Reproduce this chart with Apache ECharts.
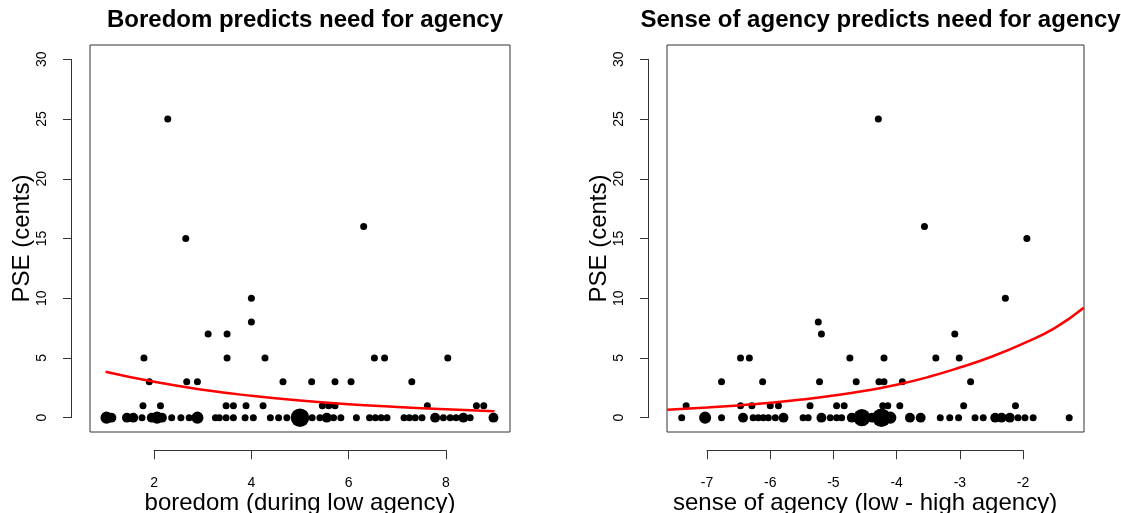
<!DOCTYPE html>
<html><head><meta charset="utf-8">
<script src="https://cdn.jsdelivr.net/npm/echarts@6/dist/echarts.min.js"></script>
<style>html,body{margin:0;padding:0;background:#fff}#c{width:1121px;height:513px}</style>
</head><body><div id="c"></div>
<script>
// ---------- data ----------
const titles = ['Boredom predicts need for agency', 'Sense of agency predicts need for agency'];
const xNames = ['boredom (during low agency)', 'sense of agency (low - high agency)'];
const yName = 'PSE (cents)';
const pseTicks = [0, 5, 10, 15, 20, 25, 30];
const boredomTicks = [2, 4, 6, 8];
const agencyTicks = [-7, -6, -5, -4, -3, -2];

// left panel points: boredom score, PSE, number of overlapping observations
const boredomX = [2.28, 6.31, 2.65, 4.00, 4.00, 3.11, 3.50,
  1.79, 3.50, 4.28, 6.53, 6.74, 8.04,
  1.90, 2.67, 2.89, 4.65, 5.24, 5.72, 6.05, 7.30,
  1.77, 2.13, 3.48, 3.63, 3.89, 4.24, 5.46, 5.59, 5.72, 7.62, 8.63, 8.78,
  1.02, 1.12, 1.44, 1.57, 1.75, 1.95, 2.06, 2.16, 2.36, 2.55, 2.72, 2.89, 3.26, 3.34, 3.48, 3.63, 3.87, 4.04,
  4.39, 4.56, 4.73, 5.00, 5.25, 5.41, 5.55, 5.69, 5.84, 6.16, 6.43, 6.55, 6.67, 6.79, 7.14, 7.25, 7.37, 7.51,
  7.78, 7.95, 8.09, 8.21, 8.36, 8.50, 8.98];
const boredomPSE = [25, 16, 15, 10, 8, 7, 7,
  5, 5, 5, 5, 5, 5,
  3, 3, 3, 3, 3, 3, 3, 3,
  1, 1, 1, 1, 1, 1, 1, 1, 1, 1, 1, 1,
  0, 0, 0, 0, 0, 0, 0, 0, 0, 0, 0, 0, 0, 0, 0, 0, 0, 0,
  0, 0, 0, 0, 0, 0, 0, 0, 0, 0, 0, 0, 0, 0, 0, 0, 0, 0,
  0, 0, 0, 0, 0, 0, 0];
const boredomN = [1, 1, 1, 1, 1, 1, 1,
  1, 1, 1, 1, 1, 1,
  1, 1, 1, 1, 1, 1, 1, 1,
  1, 1, 1, 1, 1, 1, 1, 1, 1, 1, 1, 1,
  3, 2, 2, 2, 1, 2, 3, 2, 1, 1, 1, 3, 1, 1, 1, 1, 1, 1,
  1, 1, 1, 7, 1, 1, 2, 1, 1, 1, 1, 1, 1, 1, 1, 1, 1, 1,
  2, 1, 1, 1, 2, 1, 2];

// right panel points
const agencyX = [-4.29, -3.56, -1.94, -2.28, -5.24, -5.19, -3.08,
  -6.47, -6.33, -4.74, -4.20, -3.38, -3.01,
  -6.77, -6.12, -5.22, -4.64, -4.28, -4.20, -3.91, -2.83,
  -7.33, -6.47, -6.29, -6.00, -5.87, -5.37, -4.95, -4.83, -4.22, -4.14, -3.95, -2.94, -2.12,
  -7.40, -7.03, -6.77, -6.43, -6.27, -6.19, -6.11, -6.03, -5.92, -5.79, -5.48, -5.40, -5.19, -5.05, -4.95, -4.87,
  -4.71, -4.55, -4.39, -4.24, -4.10, -3.79, -3.62, -3.31, -3.16, -3.02, -2.76, -2.63, -2.44, -2.34, -2.21,
  -2.08, -1.97, -1.84, -1.27];
const agencyPSE = [25, 16, 15, 10, 8, 7, 7,
  5, 5, 5, 5, 5, 5,
  3, 3, 3, 3, 3, 3, 3, 3,
  1, 1, 1, 1, 1, 1, 1, 1, 1, 1, 1, 1, 1,
  0, 0, 0, 0, 0, 0, 0, 0, 0, 0, 0, 0, 0, 0, 0, 0,
  0, 0, 0, 0, 0, 0, 0, 0, 0, 0, 0, 0, 0, 0, 0,
  0, 0, 0, 0];
const agencyN = [1, 1, 1, 1, 1, 1, 1,
  1, 1, 1, 1, 1, 1,
  1, 1, 1, 1, 1, 1, 1, 1,
  1, 1, 1, 1, 1, 1, 1, 1, 1, 1, 1, 1, 1,
  1, 3, 1, 2, 1, 1, 1, 1, 1, 2, 1, 1, 2, 1, 1, 1,
  2, 6, 2, 7, 3, 2, 2, 1, 1, 1, 1, 1, 2, 2, 2,
  1, 1, 1, 1];

// fitted curves
const boredomFitX = [1, 2, 3, 4, 5, 6, 7, 8, 9];
const boredomFitY = [3.84, 3.0, 2.34, 1.83, 1.43, 1.12, 0.9, 0.7, 0.53];
const agencyFitX = [-7.63, -7, -6.5, -6, -5.5, -5, -4.5, -4, -3.5, -3, -2.5, -2, -1.5, -1.04];
const agencyFitY = [0.67, 0.85, 1.03, 1.25, 1.52, 1.85, 2.25, 2.75, 3.4, 4.2, 5.1, 6.2, 7.5, 9.2];

// ---------- layout ----------
const FONT = '"Liberation Sans", Arial, Helvetica, sans-serif';
const TOP = 45, H = 387, GAP = 19;
const yMin = -1.2, yMax = 31.2;
const panels = [
  { left: 90, width: 420, xMin: 0.68, xMax: 9.32, ticks: boredomTicks, step: 2,
    xs: boredomX, ys: boredomPSE, ns: boredomN, fx: boredomFitX, fy: boredomFitY },
  { left: 667, width: 417, xMin: -7.633, xMax: -1.036, ticks: agencyTicks, step: 1,
    xs: agencyX, ys: agencyPSE, ns: agencyN, fx: agencyFitX, fy: agencyFitY }
];
const xpx = (p, v) => p.left + (v - p.xMin) / (p.xMax - p.xMin) * p.width;
const ypx = v => TOP + (yMax - v) / (yMax - yMin) * H;

const AX = '#333';
const grid = [], xAxis = [], yAxis = [], series = [], title = [];
panels.forEach((p, i) => {
  // main plot box
  const g0 = grid.length;
  grid.push({ left: p.left, top: TOP, width: p.width, height: H, show: true,
    borderColor: AX, borderWidth: 1, backgroundColor: 'transparent' });
  xAxis.push({ gridIndex: g0, type: 'value', min: p.xMin, max: p.xMax, show: false });
  yAxis.push({ gridIndex: g0, type: 'value', min: yMin, max: yMax, show: false });

  // detached x axis
  const g1 = grid.length;
  const xl = xpx(p, p.ticks[0]), xr = xpx(p, p.ticks[p.ticks.length - 1]);
  grid.push({ left: xl, width: xr - xl, top: TOP + H + GAP - 1, height: 1 });
  xAxis.push({ gridIndex: g1, type: 'value', position: 'bottom',
    min: p.ticks[0], max: p.ticks[p.ticks.length - 1], interval: p.step,
    axisLine: { show: true, lineStyle: { color: AX, width: 1 } },
    axisTick: { show: true, length: 9, lineStyle: { color: AX, width: 1 } },
    axisLabel: { fontSize: 14, color: '#000', fontFamily: FONT, margin: 26 },
    splitLine: { show: false },
    name: xNames[i], nameLocation: 'middle', nameGap: 37,
    nameTextStyle: { fontSize: 24, color: '#000', fontFamily: FONT } });
  yAxis.push({ gridIndex: g1, type: 'value', show: false });

  // detached y axis
  const g2 = grid.length;
  grid.push({ left: p.left - GAP, width: 1, top: ypx(30), height: ypx(0) - ypx(30) });
  xAxis.push({ gridIndex: g2, type: 'value', show: false });
  yAxis.push({ gridIndex: g2, type: 'value', position: 'left',
    min: pseTicks[0], max: pseTicks[pseTicks.length - 1], interval: 5,
    axisLine: { show: true, lineStyle: { color: AX, width: 1 } },
    axisTick: { show: true, length: 8, lineStyle: { color: AX, width: 1 } },
    axisLabel: { fontSize: 14, color: '#000', fontFamily: FONT, rotate: 90, margin: 22 },
    splitLine: { show: false },
    name: yName, nameLocation: 'middle', nameGap: 37, nameRotate: 90,
    nameTextStyle: { fontSize: 24, color: '#000', fontFamily: FONT } });

  // points
  series.push({ type: 'scatter', xAxisIndex: g0, yAxisIndex: g0,
    data: p.xs.map((x, k) => [x, p.ys[k], p.ns[k]]),
    symbol: 'circle', symbolSize: v => 7 * Math.sqrt(v[2]),
    itemStyle: { color: '#000', opacity: 1 }, z: 2, silent: true });
  // fitted curve
  series.push({ type: 'line', xAxisIndex: g0, yAxisIndex: g0,
    data: p.fx.map((x, k) => [x, p.fy[k]]),
    smooth: true, showSymbol: false, symbol: 'none', clip: true,
    lineStyle: { color: '#ff0000', width: 2.5 }, z: 3, silent: true });

  title.push({ text: titles[i], left: p.left + p.width / 2, top: 3, textAlign: 'center',
    textStyle: { fontSize: 24, fontWeight: 'bold', color: '#000', fontFamily: FONT } });
});

const chart = echarts.init(document.getElementById('c'), null, { renderer: 'canvas' });
chart.setOption({ animation: false, backgroundColor: '#fff', title, grid, xAxis, yAxis, series });
</script></body></html>
